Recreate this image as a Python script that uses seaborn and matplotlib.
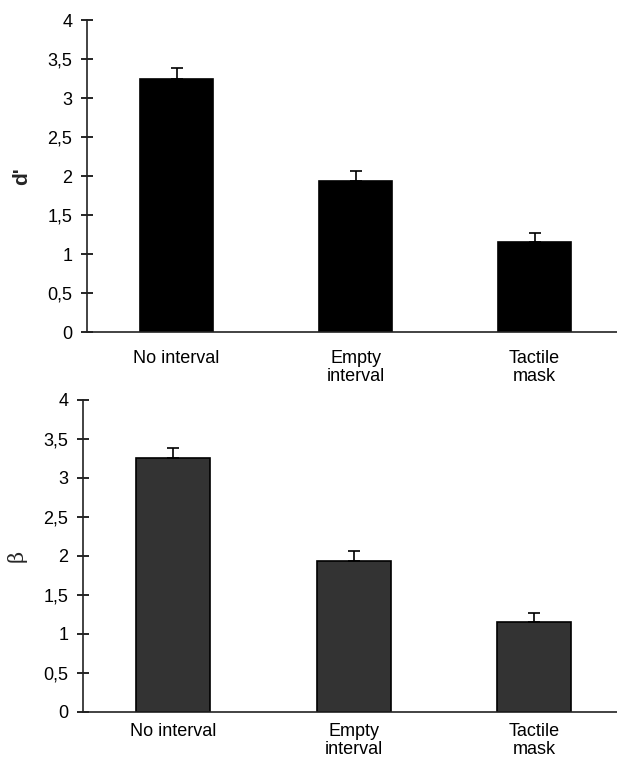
import numpy as np
import pandas as pd
import matplotlib
matplotlib.use("Agg")
import matplotlib.pyplot as plt
import seaborn as sns

conditions = ["No interval", "Empty\ninterval", "Tactile\nmask"]
dprime = [3.25, 1.93, 1.15]
dprime_err = [0.13, 0.13, 0.12]
beta = [3.25, 1.93, 1.15]
beta_err = [0.13, 0.13, 0.12]
yticks = [0, 0.5, 1, 1.5, 2, 2.5, 3, 3.5, 4]
ytick_labels = ["0", "0,5", "1", "1,5", "2", "2,5", "3", "3,5", "4"]

sns.set_style("ticks")
plt.rcParams["font.family"] = ["Liberation Sans", "DejaVu Sans"]

fig = plt.figure(figsize=(6.17, 7.61), dpi=100)
ax1 = fig.add_axes([0.141, 0.5637, 0.859, 0.41])
ax2 = fig.add_axes([0.1345, 0.0644, 0.8655, 0.41])


def draw(ax, vals, errs, color, label, bold, xpad):
    df = pd.DataFrame({"cond": conditions, "val": vals})
    sns.barplot(data=df, x="cond", y="val", color=color, width=0.41,
                edgecolor="black", linewidth=1.2, saturation=1,
                errorbar=None, ax=ax)
    ax.errorbar(range(len(vals)), vals, yerr=[np.zeros(len(errs)), errs],
                fmt="none", ecolor="black", elinewidth=1.2, capsize=4.5,
                capthick=1.2)
    ax.set_ylim(0, 4)
    ax.set_xlim(-0.5, 2.46)
    ax.set_yticks(yticks)
    ax.set_yticklabels(ytick_labels)
    ax.tick_params(axis="y", direction="inout", length=9, width=1.2,
                   labelsize=13, pad=6, colors="black")
    ax.tick_params(axis="x", length=0, labelsize=13, pad=xpad, colors="black")
    for t in ax.get_xticklabels():
        t.set_linespacing(1.05)
    ax.set_xlabel("")
    ax.set_ylabel(label, fontsize=15, fontweight="bold" if bold else "normal",
                  labelpad=12)
    sns.despine(ax=ax)
    for s in ["left", "bottom"]:
        ax.spines[s].set_linewidth(1.2)
        ax.spines[s].set_color("#222222")


draw(ax1, dprime, dprime_err, "black", "d'", True, 13)
draw(ax2, beta, beta_err, "#333333", "β", False, 8)
ax2.yaxis.label.set_family(["DejaVu Serif"])

fig.savefig("out.png", dpi=100)
